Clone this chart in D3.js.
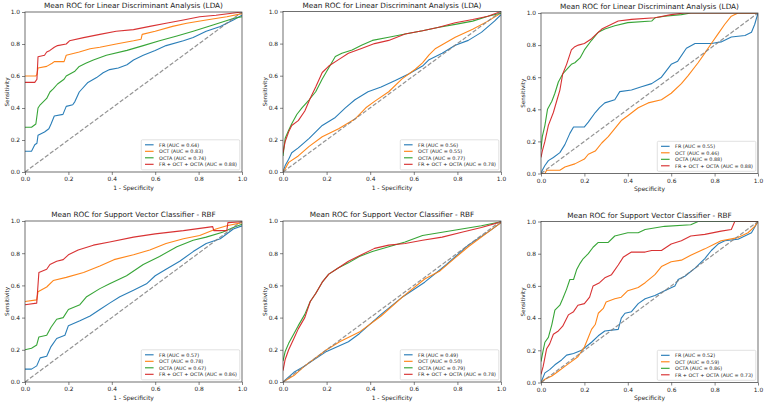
<!DOCTYPE html>
<html><head><meta charset="utf-8">
<script src="https://cdn.jsdelivr.net/npm/d3@7"></script>
<style>body{margin:0;background:#fff} text{font-family:"DejaVu Sans",sans-serif;fill:#222}</style>
</head><body><svg id="c" width="764" height="404"></svg>
<script>
// ---------- DATA: [1-specificity / specificity axis value, sensitivity] ----------
const seriesNames = ["FR", "OCT", "OCTA", "FR + OCT + OCTA"];
const tickValues = [0, 0.2, 0.4, 0.6, 0.8, 1.0];
const titles = ["Mean ROC for Linear Discriminant Analysis (LDA)", "Mean ROC for Linear Discriminant Analysis (LDA)", "Mean ROC for Linear Discriminant Analysis (LDA)",
  "Mean ROC for Support Vector Classifier - RBF", "Mean ROC for Support Vector Classifier - RBF", "Mean ROC for Support Vector Classifier - RBF"];
const xLabels = ["1 - Specificity", "1 - Specificity", "Specificity", "1 - Specificity", "1 - Specificity", "Specificity"];
const yLabel = "Sensitivity";

const auc1 = [0.64, 0.83, 0.74, 0.88];
const auc2 = [0.56, 0.55, 0.77, 0.78];
const auc3 = [0.55, 0.46, 0.88, 0.88];
const auc4 = [0.57, 0.78, 0.67, 0.86];
const auc5 = [0.49, 0.50, 0.79, 0.78];
const auc6 = [0.52, 0.59, 0.86, 0.73];

// Panel 1 – LDA
const p1_FR = [[0,0.13],[0.03,0.13],[0.045,0.17],[0.055,0.18],[0.06,0.23],[0.09,0.25],[0.11,0.27],[0.12,0.30],[0.135,0.35],[0.175,0.36],[0.19,0.41],[0.22,0.42],[0.23,0.44],[0.25,0.50],[0.29,0.56],[0.33,0.59],[0.36,0.62],[0.39,0.64],[0.43,0.65],[0.47,0.67],[0.5,0.70],[0.545,0.73],[0.6,0.76],[0.65,0.79],[0.73,0.82],[0.775,0.84],[0.835,0.88],[0.9,0.91],[0.96,0.95],[1,0.98]];
const p1_OCT = [[0,0.60],[0.05,0.60],[0.055,0.61],[0.06,0.65],[0.1,0.66],[0.125,0.68],[0.135,0.69],[0.18,0.69],[0.19,0.73],[0.25,0.75],[0.3,0.77],[0.345,0.78],[0.42,0.80],[0.5,0.82],[0.535,0.83],[0.54,0.86],[0.6,0.88],[0.68,0.91],[0.745,0.93],[0.835,0.95],[0.93,0.97],[1,0.99]];
const p1_OCTA = [[0,0.28],[0.03,0.28],[0.05,0.30],[0.06,0.40],[0.07,0.42],[0.1,0.46],[0.115,0.50],[0.13,0.52],[0.15,0.55],[0.18,0.58],[0.19,0.60],[0.23,0.63],[0.25,0.66],[0.28,0.68],[0.315,0.70],[0.375,0.73],[0.47,0.76],[0.545,0.79],[0.62,0.82],[0.7,0.85],[0.775,0.88],[0.87,0.92],[0.96,0.96],[1,0.97]];
const p1_ALL = [[0,0.56],[0.045,0.56],[0.055,0.58],[0.06,0.72],[0.09,0.73],[0.1,0.75],[0.115,0.76],[0.135,0.78],[0.15,0.79],[0.19,0.80],[0.205,0.82],[0.27,0.84],[0.345,0.86],[0.42,0.88],[0.5,0.89],[0.575,0.91],[0.65,0.93],[0.73,0.95],[0.805,0.97],[0.88,0.98],[1,1.0]];

// Panel 2 – LDA
const p2_FR = [[0,0],[0.01,0.04],[0.026,0.08],[0.04,0.12],[0.07,0.15],[0.12,0.21],[0.18,0.29],[0.24,0.34],[0.286,0.40],[0.33,0.45],[0.39,0.50],[0.45,0.53],[0.515,0.57],[0.576,0.61],[0.64,0.66],[0.67,0.70],[0.73,0.74],[0.79,0.79],[0.85,0.82],[0.91,0.87],[0.97,0.94],[1,0.98]];
const p2_OCT = [[0,0],[0.01,0.02],[0.026,0.06],[0.07,0.10],[0.12,0.16],[0.18,0.22],[0.255,0.27],[0.33,0.33],[0.38,0.40],[0.42,0.44],[0.485,0.50],[0.546,0.58],[0.607,0.64],[0.64,0.68],[0.67,0.73],[0.7,0.77],[0.79,0.84],[0.87,0.89],[0.94,0.94],[1,0.99]];
const p2_OCTA = [[0,0.10],[0.01,0.21],[0.026,0.26],[0.04,0.30],[0.064,0.36],[0.087,0.40],[0.12,0.45],[0.15,0.50],[0.18,0.58],[0.21,0.65],[0.24,0.72],[0.27,0.74],[0.317,0.76],[0.36,0.79],[0.41,0.82],[0.485,0.84],[0.56,0.86],[0.64,0.88],[0.71,0.90],[0.79,0.92],[0.87,0.94],[0.94,0.97],[1,0.99]];
const p2_ALL = [[0,0.12],[0.01,0.19],[0.026,0.25],[0.04,0.29],[0.07,0.32],[0.1,0.38],[0.125,0.46],[0.15,0.53],[0.18,0.62],[0.21,0.66],[0.255,0.70],[0.3,0.74],[0.36,0.77],[0.42,0.80],[0.485,0.82],[0.56,0.86],[0.64,0.88],[0.71,0.90],[0.79,0.93],[0.87,0.95],[0.94,0.97],[1,1.0]];

// Panel 3 – LDA (Specificity)
const p3_FR = [[0,0],[0.006,0.02],[0.018,0.05],[0.034,0.08],[0.057,0.10],[0.087,0.13],[0.11,0.18],[0.133,0.25],[0.15,0.29],[0.2,0.29],[0.218,0.32],[0.25,0.38],[0.27,0.41],[0.294,0.44],[0.34,0.46],[0.363,0.51],[0.417,0.52],[0.463,0.54],[0.51,0.56],[0.555,0.60],[0.6,0.68],[0.63,0.70],[0.67,0.78],[0.71,0.81],[0.785,0.81],[0.83,0.82],[0.877,0.85],[0.94,0.86],[0.97,0.88],[0.985,0.93],[1,1.0]];
const p3_OCT = [[0,0],[0.018,0],[0.026,0.02],[0.087,0.02],[0.11,0.04],[0.156,0.06],[0.2,0.09],[0.218,0.12],[0.25,0.14],[0.28,0.19],[0.31,0.23],[0.34,0.28],[0.37,0.33],[0.4,0.36],[0.448,0.41],[0.494,0.44],[0.555,0.46],[0.6,0.50],[0.647,0.56],[0.678,0.61],[0.724,0.69],[0.755,0.75],[0.785,0.81],[0.816,0.87],[0.847,0.93],[0.877,0.98],[0.908,1.0],[1,1.0]];
const p3_OCTA = [[0,0.15],[0.006,0.23],[0.018,0.30],[0.03,0.40],[0.05,0.45],[0.064,0.50],[0.08,0.57],[0.1,0.62],[0.126,0.66],[0.14,0.68],[0.156,0.69],[0.18,0.72],[0.2,0.77],[0.233,0.83],[0.264,0.88],[0.294,0.90],[0.34,0.92],[0.4,0.94],[0.51,0.95],[0.525,0.97],[0.57,0.98],[0.647,0.99],[0.69,1.0],[1,1.0]];
const p3_ALL = [[0,0.10],[0.006,0.14],[0.018,0.20],[0.034,0.30],[0.057,0.38],[0.072,0.45],[0.087,0.52],[0.1,0.62],[0.118,0.68],[0.14,0.77],[0.156,0.79],[0.172,0.80],[0.2,0.81],[0.233,0.84],[0.256,0.87],[0.28,0.90],[0.325,0.93],[0.356,0.95],[0.417,0.96],[0.525,0.97],[0.6,0.99],[0.66,1.0],[1,1.0]];

// Panel 4 – SVC RBF
const p4_FR = [[0,0.08],[0.03,0.08],[0.054,0.10],[0.07,0.15],[0.1,0.16],[0.12,0.22],[0.146,0.27],[0.184,0.29],[0.2,0.35],[0.253,0.38],[0.3,0.41],[0.345,0.45],[0.39,0.49],[0.437,0.53],[0.5,0.57],[0.56,0.61],[0.6,0.66],[0.65,0.70],[0.713,0.75],[0.775,0.81],[0.835,0.86],[0.9,0.89],[0.96,0.95],[1,0.97]];
const p4_OCT = [[0,0.50],[0.054,0.51],[0.06,0.56],[0.1,0.59],[0.13,0.63],[0.19,0.65],[0.27,0.68],[0.345,0.72],[0.41,0.76],[0.5,0.79],[0.575,0.82],[0.65,0.86],[0.73,0.89],[0.805,0.91],[0.88,0.95],[0.93,0.97],[1,0.99]];
const p4_OCTA = [[0,0.20],[0.03,0.21],[0.054,0.23],[0.064,0.28],[0.1,0.29],[0.12,0.34],[0.146,0.39],[0.176,0.40],[0.2,0.45],[0.253,0.48],[0.284,0.53],[0.345,0.58],[0.39,0.61],[0.468,0.66],[0.545,0.73],[0.62,0.78],[0.7,0.84],[0.775,0.88],[0.835,0.90],[0.91,0.93],[0.96,0.96],[1,0.98]];
const p4_ALL = [[0,0.48],[0.054,0.49],[0.064,0.68],[0.1,0.70],[0.115,0.73],[0.146,0.75],[0.176,0.76],[0.2,0.79],[0.245,0.82],[0.315,0.85],[0.39,0.87],[0.5,0.90],[0.6,0.92],[0.73,0.94],[0.865,0.965],[0.87,0.94],[0.93,0.94],[0.935,0.99],[1,0.995]];

// Panel 5 – SVC RBF
const p5_FR = [[0,0],[0.05,0.06],[0.1,0.10],[0.2,0.19],[0.3,0.25],[0.35,0.30],[0.45,0.42],[0.55,0.53],[0.65,0.62],[0.75,0.73],[0.85,0.85],[0.95,0.94],[1,0.99]];
const p5_OCT = [[0,0],[0.05,0.04],[0.1,0.10],[0.2,0.20],[0.26,0.25],[0.35,0.31],[0.45,0.41],[0.55,0.53],[0.65,0.64],[0.72,0.69],[0.78,0.76],[0.85,0.84],[0.95,0.94],[1,0.99]];
const p5_OCTA = [[0,0.13],[0.01,0.19],[0.026,0.24],[0.05,0.30],[0.07,0.35],[0.1,0.42],[0.125,0.50],[0.15,0.55],[0.18,0.62],[0.21,0.67],[0.255,0.71],[0.3,0.74],[0.35,0.78],[0.41,0.81],[0.485,0.84],[0.56,0.87],[0.64,0.91],[0.73,0.93],[0.82,0.95],[0.91,0.97],[1,0.995]];
const p5_ALL = [[0,0.07],[0.01,0.14],[0.026,0.20],[0.05,0.27],[0.07,0.33],[0.1,0.40],[0.125,0.50],[0.15,0.55],[0.18,0.62],[0.21,0.67],[0.255,0.71],[0.3,0.75],[0.36,0.79],[0.42,0.83],[0.485,0.85],[0.56,0.86],[0.64,0.88],[0.73,0.90],[0.82,0.93],[0.91,0.96],[1,0.995]];

// Panel 6 – SVC RBF (Specificity)
const p6_FR = [[0,0],[0.018,0.06],[0.04,0.08],[0.064,0.11],[0.095,0.14],[0.118,0.17],[0.15,0.18],[0.187,0.20],[0.233,0.25],[0.264,0.29],[0.294,0.32],[0.356,0.33],[0.37,0.40],[0.387,0.43],[0.417,0.44],[0.448,0.49],[0.48,0.52],[0.525,0.54],[0.57,0.57],[0.617,0.60],[0.632,0.64],[0.663,0.66],[0.71,0.71],[0.755,0.77],[0.785,0.82],[0.816,0.86],[0.847,0.88],[0.908,0.89],[0.97,0.93],[1,1.0]];
const p6_OCT = [[0,0],[0.018,0.02],[0.05,0.04],[0.08,0.07],[0.11,0.10],[0.14,0.13],[0.17,0.16],[0.2,0.22],[0.218,0.28],[0.233,0.33],[0.25,0.36],[0.264,0.43],[0.287,0.46],[0.3,0.50],[0.34,0.52],[0.37,0.53],[0.4,0.57],[0.448,0.59],[0.48,0.62],[0.525,0.67],[0.555,0.72],[0.6,0.75],[0.647,0.76],[0.69,0.79],[0.755,0.83],[0.8,0.86],[0.83,0.88],[0.908,0.90],[0.954,0.93],[0.985,0.97],[1,1.0]];
const p6_OCTA = [[0,0.13],[0.01,0.20],[0.018,0.25],[0.034,0.28],[0.05,0.36],[0.064,0.45],[0.087,0.48],[0.1,0.52],[0.118,0.58],[0.133,0.64],[0.15,0.64],[0.164,0.70],[0.18,0.74],[0.195,0.77],[0.218,0.80],[0.24,0.84],[0.264,0.87],[0.31,0.87],[0.34,0.91],[0.4,0.93],[0.448,0.93],[0.48,0.95],[0.57,0.97],[0.69,0.98],[0.724,1.0],[1,1.0]];
const p6_ALL = [[0,0.05],[0.01,0.10],[0.026,0.21],[0.04,0.24],[0.057,0.30],[0.08,0.32],[0.1,0.35],[0.126,0.42],[0.15,0.44],[0.17,0.48],[0.2,0.49],[0.224,0.53],[0.24,0.60],[0.27,0.62],[0.294,0.65],[0.325,0.67],[0.356,0.73],[0.38,0.78],[0.417,0.81],[0.48,0.81],[0.51,0.82],[0.555,0.82],[0.6,0.86],[0.647,0.88],[0.69,0.91],[0.755,0.92],[0.83,0.94],[0.877,0.95],[0.893,1.0],[1,1.0]];

// ---------- STYLE / LAYOUT ----------
const colors = ["#1f77b4", "#ff7f0e", "#2ca02c", "#d62728"];
const panelSeries = [
  [p1_FR, p1_OCT, p1_OCTA, p1_ALL], [p2_FR, p2_OCT, p2_OCTA, p2_ALL], [p3_FR, p3_OCT, p3_OCTA, p3_ALL],
  [p4_FR, p4_OCT, p4_OCTA, p4_ALL], [p5_FR, p5_OCT, p5_OCTA, p5_ALL], [p6_FR, p6_OCT, p6_OCTA, p6_ALL]];
const panelAuc = [auc1, auc2, auc3, auc4, auc5, auc6];
const boxes = [
  {l: 25, t: 12, r: 242, b: 172}, {l: 283, t: 11.5, r: 501, b: 172}, {l: 541, t: 13, r: 758, b: 173.5},
  {l: 25, t: 221, r: 242, b: 382}, {l: 283, t: 221, r: 501, b: 382}, {l: 541, t: 221.5, r: 758, b: 382.5}];

const svg = d3.select("#c");
const fmt = d3.format(".1f");

boxes.forEach((B, i) => {
  const x = d3.scaleLinear().domain([0, 1]).range([B.l, B.r]);
  const y = d3.scaleLinear().domain([0, 1]).range([B.b, B.t]);
  const g = svg.append("g");

  g.append("clipPath").attr("id", "clip" + i).append("rect")
    .attr("x", B.l).attr("y", B.t).attr("width", B.r - B.l).attr("height", B.b - B.t);
  const plot = g.append("g").attr("clip-path", `url(#clip${i})`);

  // curves
  const line = d3.line().x(d => x(d[0])).y(d => y(d[1]));
  panelSeries[i].forEach((s, k) => {
    plot.append("path").datum(s).attr("d", line)
      .attr("fill", "none").attr("stroke", colors[k]).attr("stroke-width", 1.1)
      .attr("stroke-linejoin", "round").attr("opacity", 0.95);
  });
  // chance diagonal
  plot.append("path").datum([[0, 0], [1, 1]]).attr("d", line)
    .attr("fill", "none").attr("stroke", "#808080").attr("stroke-width", 1.2)
    .attr("stroke-dasharray", "4.3,1.9").attr("opacity", 0.85);

  // axes
  const xa = g.append("g").attr("transform", `translate(0,${B.b})`)
    .call(d3.axisBottom(x).tickValues(tickValues).tickFormat(fmt).tickSize(3).tickPadding(2));
  const ya = g.append("g").attr("transform", `translate(${B.l},0)`)
    .call(d3.axisLeft(y).tickValues(tickValues).tickFormat(fmt).tickSize(3).tickPadding(2));
  [xa, ya].forEach(a => {
    a.select(".domain").remove();
    a.selectAll(".tick line").attr("stroke", "#333").attr("stroke-width", 0.6);
    a.selectAll(".tick text").attr("font-size", 5.9).attr("font-family", "DejaVu Sans").style("fill", "#222");
  });

  // frame
  g.append("rect").attr("x", B.l).attr("y", B.t).attr("width", B.r - B.l).attr("height", B.b - B.t)
    .attr("fill", "none").attr("stroke", "#333").attr("stroke-width", 0.7);

  // title and labels
  g.append("text").attr("x", (B.l + B.r) / 2).attr("y", B.t - 4).attr("text-anchor", "middle")
    .attr("font-size", 7.3).text(titles[i]);
  g.append("text").attr("x", (B.l + B.r) / 2).attr("y", B.b + 17.5).attr("text-anchor", "middle")
    .attr("font-size", 6).text(xLabels[i]);
  g.append("text").attr("transform", `translate(${B.l - 16.5},${(B.t + B.b) / 2}) rotate(-90)`)
    .attr("text-anchor", "middle").attr("font-size", 5.6).text(yLabel);

  // legend
  const lg = g.append("g");
  const labels = seriesNames.map((n, k) => `${n} (AUC = ${panelAuc[i][k].toFixed(2)})`);
  const rowH = 6.5, fs = 4.9;
  const texts = labels.map((t, k) => lg.append("text").attr("font-size", fs).text(t));
  const maxW = d3.max(texts, t => t.node().getComputedTextLength());
  const w = 17.8 + maxW + 2.8, h = 30;
  const lx = B.r - 2.2 - w, ly = B.b - 2.2 - h;
  lg.insert("rect", "text").attr("x", lx).attr("y", ly).attr("width", w).attr("height", h)
    .attr("rx", 1.2).attr("fill", "#fff").attr("fill-opacity", 0.85).attr("stroke", "#ccc").attr("stroke-width", 0.6);
  labels.forEach((t, k) => {
    const cy = ly + 5 + k * rowH;
    lg.append("line").attr("x1", lx + 3.7).attr("x2", lx + 12.3).attr("y1", cy).attr("y2", cy)
      .attr("stroke", colors[k]).attr("stroke-width", 1.1);
    texts[k].attr("x", lx + 17.8).attr("y", cy + 1.75);
  });
});
</script></body></html>
